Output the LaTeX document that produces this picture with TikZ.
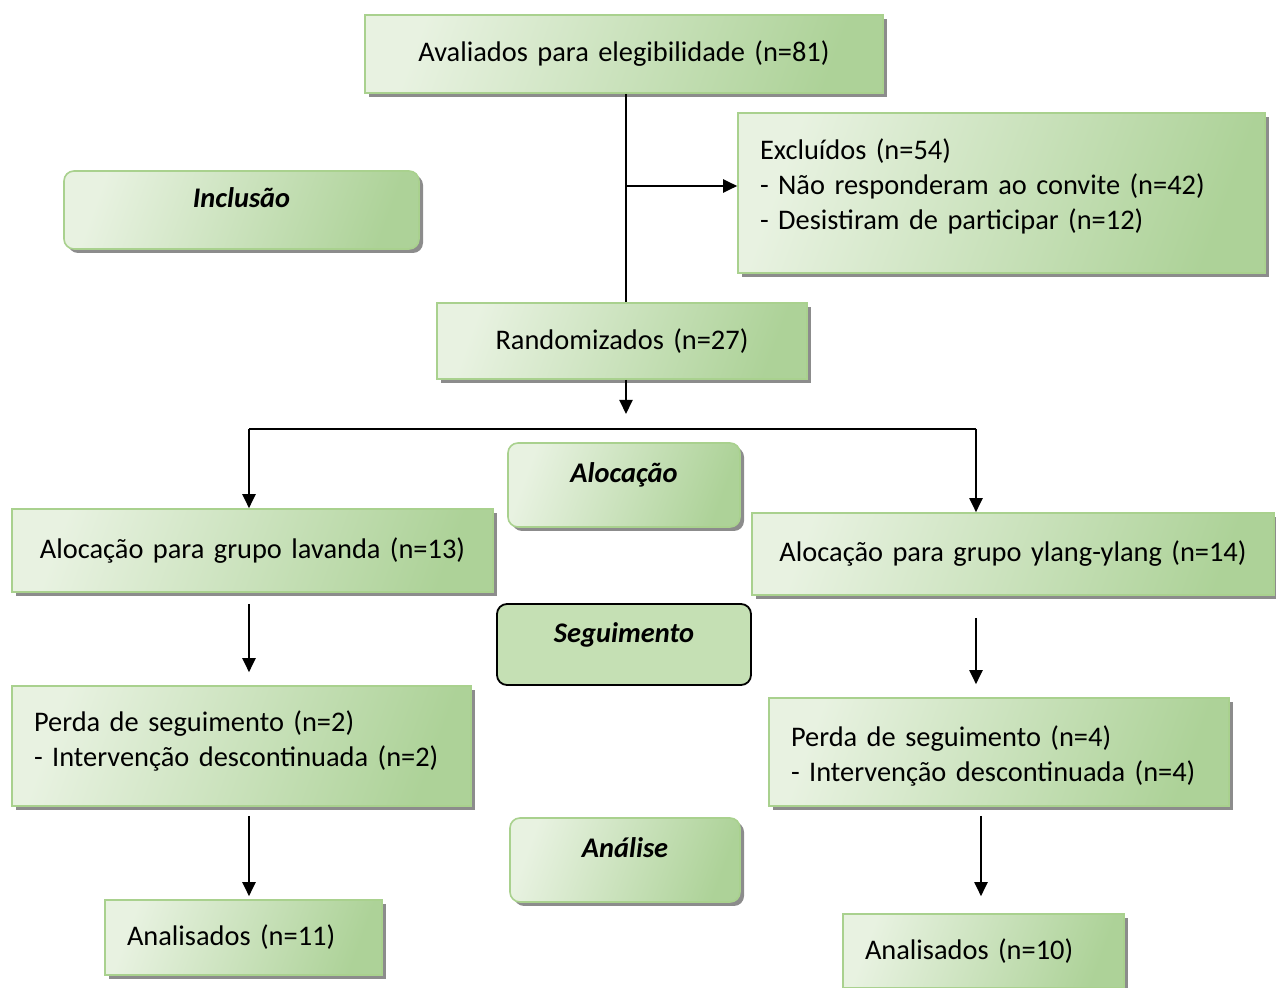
\documentclass[tikz,border=0pt]{standalone}
\usepackage{fontspec}
\setmainfont{Carlito}
\usepackage{tikz}
\usetikzlibrary{arrows.meta,positioning,shadows}
\usepackage{xcolor}

\definecolor{boxlight}{HTML}{E8F2E1}
\definecolor{boxgreen}{HTML}{ADD298}
\definecolor{boxline}{HTML}{A9D18E}
\definecolor{segfill}{HTML}{C5E0B4}

\begin{document}
\begin{tikzpicture}[
  x=0.5pt, y=-0.5pt,
  plain/.style={
    rectangle, inner xsep=11pt, inner ysep=4pt, align=center,
    font=\fontsize{14.2}{17.5}\selectfont
  },
  box/.style={
    plain, draw=boxline, line width=0.8pt,
    left color=boxlight, right color=boxgreen, shading angle=70,
    drop shadow={shadow xshift=2pt, shadow yshift=-2pt, fill=black!45, opacity=1}
  },
  leftbox/.style={box, align=left},
  phasetext/.style={rounded corners=5pt, inner xsep=6pt,
    text height=10pt, text depth=12pt,
    font=\fontsize{14.2}{17.5}\selectfont\bfseries\itshape},
  phase/.style={box, phasetext},
  phasesolid/.style={plain, phasetext, draw=black, line width=0.9pt, fill=segfill},
  line/.style={line width=1pt, black},
  arr/.style={line, -{Triangle[length=7pt,width=6.5pt]}}
]
\useasboundingbox (0,0) rectangle (1276,988);

% inclusao
\node[box, text width=237pt, minimum height=39pt] (avaliados) at (624,54)
  {Avaliados para elegibilidade (n=81)};
\node[leftbox, text width=241.5pt, minimum height=80pt, text depth=43.5pt] (excluidos) at (1001.5,193)
  {Excluídos (n=54)\\
   - Não responderam ao convite (n=42)\\
   - Desistiram de participar (n=12)};
\node[phase, text width=165.5pt, minimum height=39pt] (inclusao) at (241.5,210) {Inclusão};
\node[box, text width=163pt, minimum height=38pt] (random) at (622,341)
  {Randomizados (n=27)};

% alocacao
\node[phase, text width=104pt, minimum height=42pt] (alocacao) at (624,485) {Alocação};
\node[box, text width=218.5pt, minimum height=41.5pt] (lavanda) at (252.5,550.5)
  {Alocação para grupo lavanda (n=13)};
\node[box, text width=239pt, minimum height=41pt] (ylang) at (1013,554)
  {Alocação para grupo ylang-ylang (n=14)};

% seguimento
\node[phasesolid, text width=115pt, minimum height=40.5pt] (seguimento) at (624,644.5) {Seguimento};
\node[leftbox, text width=207.5pt, minimum height=60pt, text depth=25pt] (perdaL) at (241.5,746)
  {Perda de seguimento (n=2)\\
   - Intervenção descontinuada (n=2)};
\node[leftbox, text width=208pt, minimum height=54pt, text height=14.5pt] (perdaR) at (999,752)
  {Perda de seguimento (n=4)\\
   - Intervenção descontinuada (n=4)};

% analise
\node[phase, text width=103pt, minimum height=42pt] (analise) at (625,860) {Análise};
\node[leftbox, text width=116.5pt, minimum height=37.5pt] (analisL) at (243.5,937.5)
  {Analisados (n=11)};
\node[leftbox, text width=118.5pt, minimum height=37pt] (analisR) at (983.5,951)
  {Analisados (n=10)};

\coordinate (split) at (626,414);
\coordinate (barL) at (249,429);
\coordinate (barR) at (976,429);

\draw[line] (split |- avaliados.south) -- (split |- random.north);
\draw[arr] (split |- excluidos.west) ++(0,-7) -- ([yshift=3.5pt]excluidos.west);
\draw[arr] (split |- random.south) -- (split);
\draw[line] (barL) -- (barR);
\draw[arr] (barL) -- (barL |- lavanda.north);
\draw[arr] (barR) -- (barR |- ylang.north);
\draw[arr, shorten <=5.5pt, shorten >=6.5pt] (barL |- lavanda.south) -- (barL |- perdaL.north);
\draw[arr, shorten <=11pt, shorten >=6.5pt] (barR |- ylang.south) -- (barR |- perdaR.north);
\draw[arr, shorten <=4.5pt, shorten >=1.5pt] (barL |- perdaL.south) -- (barL |- analisL.north);
\draw[arr, shorten <=4.5pt, shorten >=8.5pt] ([xshift=2.5pt]barR |- perdaR.south) -- ([xshift=2.5pt]barR |- analisR.north);

\end{tikzpicture}
\end{document}
